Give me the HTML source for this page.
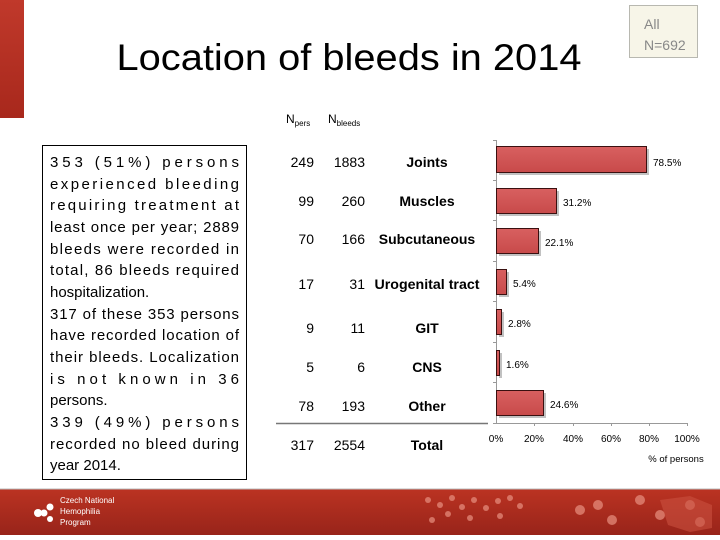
<!DOCTYPE html>
<html><head><meta charset="utf-8"><style>
html,body{margin:0;padding:0;background:#fff;}
svg{display:block;font-family:"Liberation Sans",sans-serif;}
</style></head><body>
<svg width="720" height="540" viewBox="0 0 720 540" xmlns="http://www.w3.org/2000/svg">
<defs>
<linearGradient id="lb" x1="0" y1="0" x2="0" y2="1"><stop offset="0" stop-color="#c0392b"/><stop offset="1" stop-color="#a8281c"/></linearGradient>
<linearGradient id="ft" x1="0" y1="0" x2="0" y2="1"><stop offset="0" stop-color="#bb3322"/><stop offset="1" stop-color="#98241a"/></linearGradient>
<linearGradient id="bar" x1="0" y1="0" x2="0" y2="1"><stop offset="0" stop-color="#d86060"/><stop offset="1" stop-color="#c84a4a"/></linearGradient>
</defs>
<rect x="0" y="0" width="24" height="118" fill="url(#lb)"/>
<text x="349" y="70" font-size="37" text-anchor="middle" textLength="465" lengthAdjust="spacingAndGlyphs" fill="#000">Location of bleeds in 2014</text>
<rect x="629.5" y="5.5" width="68" height="52" fill="#f7f5e8" stroke="#b8b8b0"/>
<text x="644" y="29" font-size="14" fill="#888">All</text>
<text x="644" y="50" font-size="14" fill="#888">N=692</text>

<text x="286" y="123" font-size="12">N<tspan font-size="8" dy="3">pers</tspan></text>
<text x="328" y="123" font-size="12">N<tspan font-size="8" dy="3">bleeds</tspan></text>

<rect x="42.5" y="145.5" width="204" height="334" fill="none" stroke="#000" stroke-width="1"/>
<g font-size="15" fill="#000">
<text x="50" y="167" textLength="189" lengthAdjust="spacing">353 (51%) persons</text>
<text x="50" y="189" textLength="189" lengthAdjust="spacing">experienced bleeding</text>
<text x="50" y="210" textLength="189" lengthAdjust="spacing">requiring treatment at</text>
<text x="50" y="232" textLength="189" lengthAdjust="spacing">least once per year; 2889</text>
<text x="50" y="254" textLength="189" lengthAdjust="spacing">bleeds were recorded in</text>
<text x="50" y="275" textLength="189" lengthAdjust="spacing">total, 86 bleeds required</text>
<text x="50" y="297">hospitalization.</text>
<text x="50" y="319" textLength="189" lengthAdjust="spacing">317 of these 353 persons</text>
<text x="50" y="340" textLength="189" lengthAdjust="spacing">have recorded location of</text>
<text x="50" y="362" textLength="189" lengthAdjust="spacing">their bleeds. Localization</text>
<text x="50" y="384" textLength="189" lengthAdjust="spacing">is not known in 36</text>
<text x="50" y="405">persons.</text>
<text x="50" y="427" textLength="189" lengthAdjust="spacing">339 (49%) persons</text>
<text x="50" y="449" textLength="189" lengthAdjust="spacing">recorded no bleed during</text>
<text x="50" y="470">year 2014.</text>
</g>

<g font-size="14" fill="#000">
<g text-anchor="end">
<text x="314" y="167">249</text><text x="365" y="167">1883</text>
<text x="314" y="206">99</text><text x="365" y="206">260</text>
<text x="314" y="244">70</text><text x="365" y="244">166</text>
<text x="314" y="289">17</text><text x="365" y="289">31</text>
<text x="314" y="333">9</text><text x="365" y="333">11</text>
<text x="314" y="372">5</text><text x="365" y="372">6</text>
<text x="314" y="411">78</text><text x="365" y="411">193</text>
<text x="314" y="450">317</text><text x="365" y="450">2554</text>
</g>
<g text-anchor="middle" font-weight="bold">
<text x="427" y="167">Joints</text>
<text x="427" y="206">Muscles</text>
<text x="427" y="244">Subcutaneous</text>
<text x="427" y="289" textLength="105" lengthAdjust="spacingAndGlyphs">Urogenital tract</text>
<text x="427" y="333">GIT</text>
<text x="427" y="372">CNS</text>
<text x="427" y="411">Other</text>
<text x="427" y="450">Total</text>
</g>
</g>
<line x1="276" y1="423.5" x2="488" y2="423.5" stroke="#777" stroke-width="1.5"/>

<!-- chart -->
<g stroke="#999" stroke-width="1">
<line x1="496.5" y1="140" x2="496.5" y2="423"/>
<line x1="493" y1="423.5" x2="688" y2="423.5"/>
<line x1="493" y1="140.5" x2="496" y2="140.5"/>
<line x1="493" y1="180.5" x2="496" y2="180.5"/>
<line x1="493" y1="220.5" x2="496" y2="220.5"/>
<line x1="493" y1="261.5" x2="496" y2="261.5"/>
<line x1="493" y1="301.5" x2="496" y2="301.5"/>
<line x1="493" y1="342.5" x2="496" y2="342.5"/>
<line x1="493" y1="382.5" x2="496" y2="382.5"/>
<line x1="534.5" y1="423" x2="534.5" y2="426"/>
<line x1="573.5" y1="423" x2="573.5" y2="426"/>
<line x1="611.5" y1="423" x2="611.5" y2="426"/>
<line x1="649.5" y1="423" x2="649.5" y2="426"/>
<line x1="687.5" y1="423" x2="687.5" y2="426"/>
</g>
<g fill="#999" opacity="0.6">
<rect x="499" y="149" width="150" height="26"/>
<rect x="499" y="191" width="60" height="25"/>
<rect x="499" y="231" width="42" height="25"/>
<rect x="499" y="272" width="10" height="25"/>
<rect x="499" y="312" width="5" height="25"/>
<rect x="499" y="353" width="3" height="25"/>
<rect x="499" y="393" width="47" height="25"/>
</g>
<g fill="url(#bar)" stroke="#3a1010" stroke-width="1">
<rect x="496.5" y="146.5" width="150" height="26"/>
<rect x="496.5" y="188.5" width="60" height="25"/>
<rect x="496.5" y="228.5" width="42" height="25"/>
<rect x="496.5" y="269.5" width="10" height="25"/>
<rect x="496.5" y="309.5" width="5" height="25"/>
<rect x="496.5" y="350.5" width="3" height="25"/>
<rect x="496.5" y="390.5" width="47" height="25"/>
</g>
<g font-size="10" fill="#000">
<text x="653" y="166">78.5%</text>
<text x="563" y="206">31.2%</text>
<text x="545" y="246">22.1%</text>
<text x="513" y="287">5.4%</text>
<text x="508" y="327">2.8%</text>
<text x="506" y="368">1.6%</text>
<text x="550" y="408">24.6%</text>
</g>
<g font-size="10" fill="#000" text-anchor="middle">
<text x="496" y="442">0%</text>
<text x="534" y="442">20%</text>
<text x="573" y="442">40%</text>
<text x="611" y="442">60%</text>
<text x="649" y="442">80%</text>
<text x="687" y="442">100%</text>
<text x="676" y="462" font-size="9.5">% of persons</text>
</g>

<!-- footer -->
<rect x="0" y="489" width="720" height="46" fill="url(#ft)"/>
<line x1="0" y1="489" x2="720" y2="489" stroke="#bbb" stroke-width="1"/>
<g fill="#fff">
<circle cx="38" cy="513" r="4"/><circle cx="50" cy="507" r="3.5"/><circle cx="50" cy="519" r="3"/><circle cx="44" cy="513" r="3.5"/>
</g>
<g font-size="8" fill="#fff">
<text x="60" y="503">Czech National</text>
<text x="60" y="514">Hemophilia</text>
<text x="60" y="525">Program</text>
</g>
<g fill="#e89080" opacity="0.7">
<circle cx="428" cy="500" r="3"/><circle cx="440" cy="505" r="3"/><circle cx="452" cy="498" r="3"/><circle cx="462" cy="507" r="3"/><circle cx="474" cy="500" r="3"/><circle cx="486" cy="508" r="3"/><circle cx="498" cy="501" r="3"/><circle cx="510" cy="498" r="3"/><circle cx="520" cy="506" r="3"/><circle cx="470" cy="518" r="3"/><circle cx="448" cy="514" r="3"/><circle cx="432" cy="520" r="3"/><circle cx="500" cy="516" r="3"/><circle cx="580" cy="510" r="5"/><circle cx="598" cy="505" r="5"/><circle cx="612" cy="520" r="5"/><circle cx="640" cy="500" r="5"/><circle cx="660" cy="515" r="5"/><circle cx="690" cy="505" r="5"/><circle cx="700" cy="522" r="5"/>
</g>
<path d="M660 500 L690 496 L712 505 L712 528 L690 532 L668 525 Z" fill="#c95040" opacity="0.6"/>
</svg>
</body></html>
